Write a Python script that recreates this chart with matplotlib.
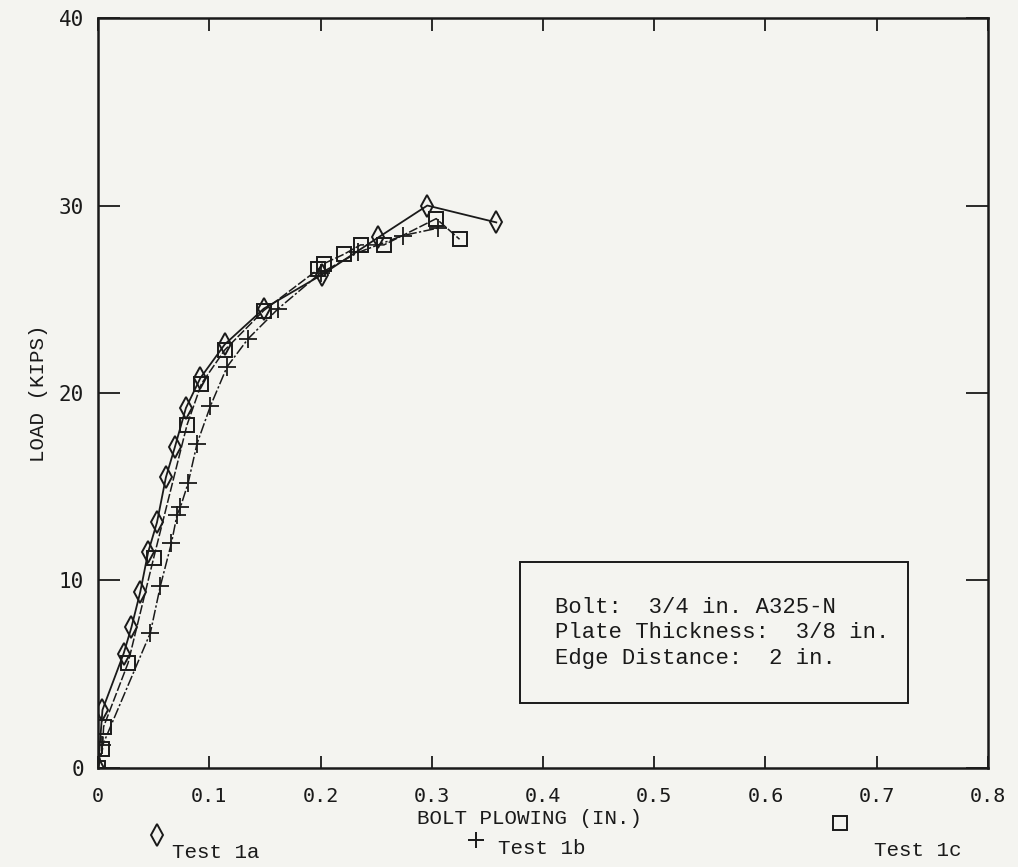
import matplotlib
matplotlib.use("Agg")
import matplotlib.pyplot as plt
from matplotlib.lines import Line2D
from matplotlib.patches import Rectangle

# Bolt plowing (in.) vs. load (kips) for three bearing tests
test_1a_x = [0.0, 0.004, 0.023, 0.030, 0.038, 0.045, 0.053, 0.061, 0.069, 0.079,
             0.092, 0.114, 0.149, 0.201, 0.252, 0.296, 0.358]
test_1a_y = [0.0, 3.1, 6.1, 7.5, 9.4, 11.5, 13.1, 15.5, 17.1, 19.2,
             20.8, 22.6, 24.5, 26.3, 28.3, 30.0, 29.1]

test_1b_x = [0.0, 0.004, 0.047, 0.056, 0.066, 0.071, 0.074, 0.081, 0.089, 0.101,
             0.116, 0.135, 0.162, 0.200, 0.234, 0.274, 0.306]
test_1b_y = [0.0, 1.2, 7.2, 9.7, 12.0, 13.5, 13.9, 15.2, 17.3, 19.3,
             21.4, 22.9, 24.5, 26.4, 27.5, 28.4, 28.8]

test_1c_x = [0.0, 0.004, 0.005, 0.027, 0.050, 0.080, 0.093, 0.114, 0.149, 0.198,
             0.203, 0.221, 0.236, 0.257, 0.304, 0.325]
test_1c_y = [0.0, 1.0, 2.2, 5.6, 11.2, 18.3, 20.5, 22.3, 24.4, 26.6,
             26.9, 27.4, 27.9, 27.9, 29.3, 28.2]

x_ticks = [0, 0.1, 0.2, 0.3, 0.4, 0.5, 0.6, 0.7, 0.8]
x_tick_labels = ["0", "0.1", "0.2", "0.3", "0.4", "0.5", "0.6", "0.7", "0.8"]
y_ticks = [0, 10, 20, 30, 40]
y_tick_labels = ["0", "10", "20", "30", "40"]

note_lines = ["Bolt:  3/4 in. A325-N",
              "Plate Thickness:  3/8 in.",
              "Edge Distance:  2 in."]
legend_labels = ["Test 1a", "Test 1b", "Test 1c"]

paper = "#f4f4f0"
ink = "#1a1a1a"
mono = ["Liberation Mono", "DejaVu Sans Mono"]
tick_font = ["DejaVu Sans Mono"]

fig = plt.figure(figsize=(10.18, 8.67), dpi=100, facecolor=paper)
ax = fig.add_axes([0.0963, 0.1142, 0.8742, 0.8650], facecolor=paper)

ax.plot(test_1a_x, test_1a_y, color=ink, lw=1.3, marker="d", ms=11,
        mfc="none", mec=ink, mew=1.4, zorder=3)
ax.plot(test_1b_x, test_1b_y, color=ink, lw=1.1, dashes=(7, 1.5, 1.5, 1.5),
        marker="+", ms=13, mec=ink, mew=1.3, zorder=3)
ax.plot(test_1c_x, test_1c_y, color=ink, lw=1.1, dashes=(6, 1.5),
        marker="s", ms=10, mfc="none", mec=ink, mew=1.4, zorder=3)

ax.set_xlim(0, 0.8)
ax.set_ylim(0, 40)
ax.set_xticks(x_ticks)
ax.set_xticklabels(x_tick_labels, fontfamily=tick_font, fontsize=14.5)
ax.set_yticks(y_ticks)
ax.set_yticklabels(y_tick_labels, fontfamily=tick_font, fontsize=15)
ax.tick_params(axis="x", direction="in", length=9, width=1.3, top=True,
               pad=14, colors=ink)
ax.tick_params(axis="y", direction="in", length=16, width=1.3, right=True,
               pad=10, colors=ink)
for side in ax.spines.values():
    side.set_linewidth(1.8)
    side.set_color(ink)

ax.set_xlabel("BOLT PLOWING (IN.)", fontfamily=mono, fontsize=15,
              color=ink, va="center")
ax.xaxis.set_label_coords(0.485, -0.067)
ax.set_ylabel("LOAD (KIPS)", fontfamily=mono, fontsize=15,
              color=ink, labelpad=8)

# Specimen description box
ax.add_patch(Rectangle((0.379, 3.45), 0.349, 7.55, fill=False, ec=ink,
                       lw=1.4, zorder=2))
ax.text(0.411, 7.2, "\n".join(note_lines), fontfamily=mono, fontsize=16,
        color=ink, va="center", ha="left", linespacing=1.3)

# Legend row under the x-axis label
legend_marks = [("d", 157, 835, 11), ("+", 476, 840, 12), ("s", 840, 823, 10)]
legend_text_pos = [(172, 853), (498, 848), (874, 851)]
for (m, px, py, size), (tx, ty), lab in zip(legend_marks, legend_text_pos,
                                            legend_labels):
    fig.add_artist(Line2D([px / 1018], [1 - py / 867], marker=m, ms=size,
                          mfc="none", mec=ink, mew=1.4, ls="none",
                          transform=fig.transFigure))
    fig.text(tx / 1018, 1 - ty / 867, lab, fontfamily=mono, fontsize=15,
             color=ink, ha="left", va="center")

fig.savefig("out.png", dpi=100, facecolor=paper)
